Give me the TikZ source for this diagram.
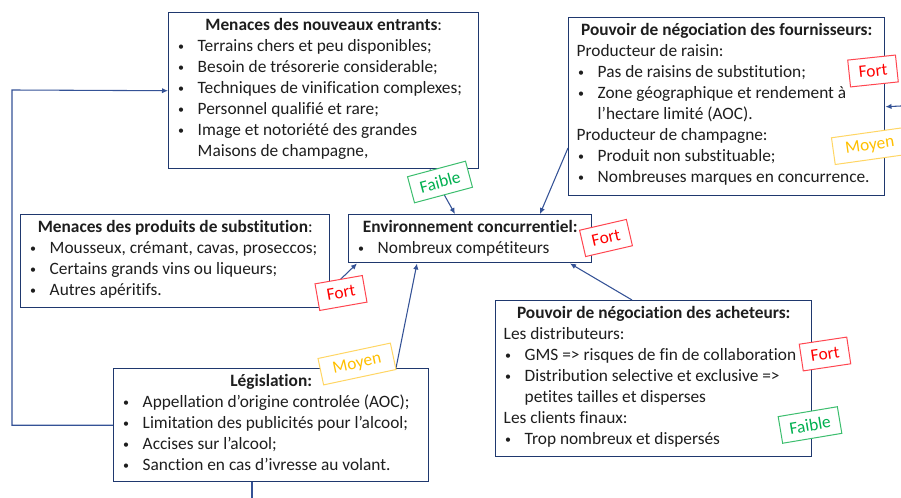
\documentclass[tikz,border=0pt]{standalone}
\usepackage{fontspec}
\setmainfont{Carlito}[Ligatures=NoCommon]
\usetikzlibrary{arrows.meta,calc}

\definecolor{boxline}{RGB}{31,56,110}
\definecolor{wire}{RGB}{52,82,150}
\definecolor{txt}{RGB}{30,30,30}
\definecolor{fortred}{RGB}{255,0,0}
\definecolor{fortedge}{RGB}{255,70,80}
\definecolor{faiblegreen}{RGB}{0,176,80}
\definecolor{faibleedge}{RGB}{60,190,110}
\definecolor{moyenyellow}{RGB}{255,192,0}
\definecolor{moyenedge}{RGB}{255,214,100}

% list helpers used inside the panels
\newcommand{\smallbullet}{\raisebox{0.6pt}{\fontsize{9pt}{9pt}\selectfont •}}
\newcommand{\itm}{\par\hangindent=15.75pt\hangafter=1\noindent\makebox[15.75pt][l]{\hspace{1pt}\smallbullet}}
\newcommand{\plainline}{\par\noindent}
\newcommand{\paneltitle}[1]{\centerline{\rule{0pt}{13.5pt}#1}}
% #1 width, #2 height, #3 content
\newcommand{\panelbody}[3]{\parbox[c][#2][t]{#1}{\fontsize{13pt}{15.75pt}\selectfont\color{txt}%
  \parskip=0pt\raggedright\leftskip=6pt\relax #3}}

\tikzset{
  panel/.style={draw=boxline, line width=1.1pt, fill=white, inner sep=0pt, anchor=north west},
  wire/.style={draw=wire, line width=0.8pt, -{Latex[length=4.5pt,width=4pt]}},
  plainwire/.style={draw=wire, line width=0.8pt},
  tag/.style={draw, fill=white, line width=0.75pt, inner sep=0pt, minimum height=20.25pt,
    font=\fontsize{13pt}{15pt}\selectfont},
  fort/.style={tag, draw=fortedge, text=fortred, minimum width=36pt},
  faible/.style={tag, draw=faibleedge, text=faiblegreen, minimum width=45pt},
  moyen/.style={tag, draw=moyenedge, text=moyenyellow, minimum width=55.5pt},
}

\begin{document}
\begin{tikzpicture}[x=0.75pt, y=-0.75pt]
\useasboundingbox (0,0) rectangle (901,498);

% the six panels
\node[panel] (b1) at (168,12) {\panelbody{232.5pt}{117pt}{%
  \paneltitle{\textbf{Menaces des nouveaux entrants}:}
  \itm Terrains chers et peu disponibles;
  \itm Besoin de trésorerie considerable;
  \itm Techniques de vinification complexes;
  \itm Personnel qualifié et rare;
  \itm Image et notoriété des grandes\newline Maisons de champagne,}};

\node[panel] (b2) at (568,17) {\panelbody{237pt}{133.5pt}{%
  \paneltitle{\textbf{Pouvoir de négociation des fournisseurs:}}
  \plainline Producteur de raisin:
  \itm Pas de raisins de substitution;
  \itm Zone géographique et rendement à\newline l’hectare limité (AOC).
  \plainline Producteur de champagne:
  \itm Produit non substituable;
  \itm Nombreuses marques en concurrence.}};

\node[panel] (b3) at (20,214) {\panelbody{231.75pt}{69.75pt}{%
  \paneltitle{\textbf{Menaces des produits de substitution}:}
  \itm Mousseux, crémant, cavas, proseccos;
  \itm Certains grands vins ou liqueurs;
  \itm Autres apéritifs.}};

\node[panel] (b4) at (348,214) {\panelbody{182.25pt}{36pt}{%
  \paneltitle{\textbf{Environnement concurrentiel:}}
  \itm Nombreux compétiteurs}};

\node[panel] (b5) at (113,368) {\panelbody{236.25pt}{84.75pt}{%
  \paneltitle{\textbf{Législation:}}
  \itm Appellation d’origine controlée (AOC);
  \itm Limitation des publicités pour l’alcool;
  \itm Accises sur l’alcool;
  \itm Sanction en cas d’ivresse au volant.}};

\node[panel] (b6) at (495,300) {\panelbody{237pt}{117pt}{%
  \paneltitle{\textbf{Pouvoir de négociation des acheteurs:}}
  \plainline Les distributeurs:
  \itm GMS => risques de fin de collaboration
  \itm Distribution selective et exclusive =>\newline petites tailles et disperses
  \plainline Les clients finaux:
  \itm Trop nombreux et dispersés}};

% free ends of the connectors leaving the picture
\coordinate (lturn) at (12,90);
\coordinate (rin) at (901,106);
\coordinate (bout) at (252,498);

% connectors
\draw[wire] (b5.west) -| (lturn) -- (b1.west);
\draw[wire] (rin) -- (b2.east);
\draw[plainwire] ($(b5.south west)+(139,0)$) -- (bout);
\draw[wire] ($(b1.south west)+(262,0)$) -- ($(b4.north west)+(107,0)$);
\draw[wire] ($(b2.north west)+(0,131)$) -- ($(b4.north west)+(192,0)$);
\draw[wire] ($(b3.north east)+(0,75)$) -- ($(b4.south west)+(9,0)$);
\draw[wire] ($(b5.north west)+(283,0)$) -- ($(b4.south west)+(69,0)$);
\draw[wire] ($(b6.north west)+(137,0)$) -- ($(b4.south west)+(222,0)$);

% strength tags
\node[faible, rotate=15]  (t1) at (440,182) {Faible};
\node[fort,   rotate=6]   (t2) at (873,71)  {Fort};
\node[moyen,  rotate=8]   (t3) at (870,146) {Moyen};
\node[fort,   rotate=13]  (t4) at (606,238) {Fort};
\node[fort,   rotate=10]  (t5) at (341,293) {Fort};
\node[moyen,  rotate=12]  (t6) at (357,364) {Moyen};
\node[fort,   rotate=8.5] (t7) at (825,354) {Fort};
\node[faible, rotate=9.5] (t8) at (810,425) {Faible};
\end{tikzpicture}
\end{document}
